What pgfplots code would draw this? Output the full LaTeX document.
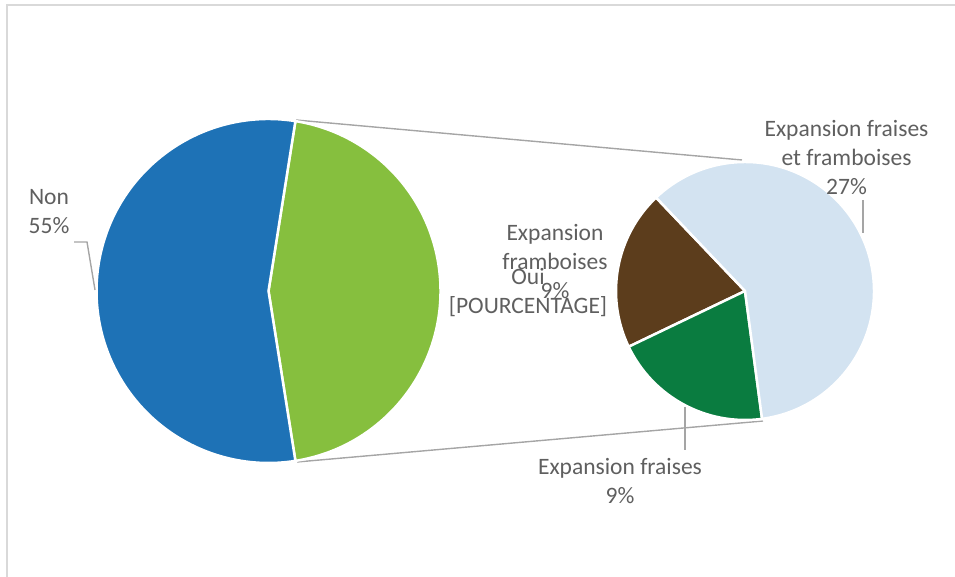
\documentclass[border=0pt]{standalone}
\usepackage{pgfplots}
\usepackage{pgfplotstable}
\pgfplotsset{compat=1.18}
\usepackage{fontspec}
\setmainfont{Carlito}
\definecolor{cNon}{RGB}{30,114,182}
\definecolor{cOui}{RGB}{134,191,62}
\definecolor{cFF}{RGB}{211,227,241}
\definecolor{cFramb}{RGB}{92,61,28}
\definecolor{cFraises}{RGB}{10,124,64}
\definecolor{cConn}{RGB}{165,165,165}
\definecolor{cBorder}{RGB}{217,217,217}
\definecolor{cText}{RGB}{95,95,95}
% primary pie
\pgfplotstableread{
label value
Non 55
Oui 45
}\primary
% secondary pie (split of Oui)
\pgfplotstableread{
label value
FraisesFramboises 27
Framboises 9
Fraises 9
}\secondary
\begin{document}
\begin{tikzpicture}
\begin{axis}[
  name=ax,
  scale only axis, width=955bp, height=577bp,
  xmin=0, xmax=955, ymin=0, ymax=577,
  enlargelimits=false,
  axis lines=none, ticks=none,
]
\pgfplotstablegetelem{0}{value}\of\primary \edef\vNon{\pgfplotsretval}
\pgfplotstablegetelem{1}{value}\of\primary \edef\vOui{\pgfplotsretval}
\pgfplotstablegetelem{0}{value}\of\secondary \edef\vFF{\pgfplotsretval}
\pgfplotstablegetelem{1}{value}\of\secondary \edef\vFb{\pgfplotsretval}
\pgfplotstablegetelem{2}{value}\of\secondary \edef\vFs{\pgfplotsretval}
% angles
\pgfmathsetmacro{\aOuiS}{-\vOui*3.6/2}
\pgfmathsetmacro{\aOuiE}{\vOui*3.6/2}
\pgfmathsetmacro{\aNonE}{\aOuiE+\vNon*3.6}
\pgfmathsetmacro{\aFbS}{133.6}
\pgfmathsetmacro{\aFbE}{\aFbS+\vFb/\vOui*360}
\pgfmathsetmacro{\aFsE}{\aFbE+\vFs/\vOui*360}
\pgfmathsetmacro{\aFFE}{\aFsE+\vFF/\vOui*360}
% border (top and left edges only; the rest lies outside the picture)
\draw[cBorder, line width=2bp] (axis cs:7,0) -- (axis cs:7,572) -- (axis cs:955,572);
% connector lines
\draw[cConn, line width=1.4bp] (axis cs:296,457) -- (axis cs:742,417);
\draw[cConn, line width=1.4bp] (axis cs:297,115) -- (axis cs:763,156);
% primary pie
\def\cx{268.5}\def\cy{286}\def\r{172}
\fill[cOui, draw=white, line width=2.5bp] (axis cs:\cx,\cy) -- (axis cs:{\cx+\r*cos(\aOuiS)},{\cy+\r*sin(\aOuiS)}) arc[start angle=\aOuiS, end angle=\aOuiE, radius=\r bp] -- cycle;
\fill[cNon, draw=white, line width=2.5bp] (axis cs:\cx,\cy) -- (axis cs:{\cx+\r*cos(\aOuiE)},{\cy+\r*sin(\aOuiE)}) arc[start angle=\aOuiE, end angle=\aNonE, radius=\r bp] -- cycle;
% secondary pie
\def\sx{745}\def\sy{286}\def\sr{129}
\fill[cFramb, draw=white, line width=2.5bp] (axis cs:\sx,\sy) -- (axis cs:{\sx+\sr*cos(\aFbS)},{\sy+\sr*sin(\aFbS)}) arc[start angle=\aFbS, end angle=\aFbE, radius=\sr bp] -- cycle;
\fill[cFraises, draw=white, line width=2.5bp] (axis cs:\sx,\sy) -- (axis cs:{\sx+\sr*cos(\aFbE)},{\sy+\sr*sin(\aFbE)}) arc[start angle=\aFbE, end angle=\aFsE, radius=\sr bp] -- cycle;
\fill[cFF, draw=white, line width=2.5bp] (axis cs:\sx,\sy) -- (axis cs:{\sx+\sr*cos(\aFsE)},{\sy+\sr*sin(\aFsE)}) arc[start angle=\aFsE, end angle=\aFFE, radius=\sr bp] -- cycle;
% leader lines
\draw[cConn, line width=1.4bp] (axis cs:74,335) -- (axis cs:87,335) -- (axis cs:95,287);
\draw[cConn, line width=1.4bp] (axis cs:863,377) -- (axis cs:863,344);
\draw[cConn, line width=1.4bp] (axis cs:685,170) -- (axis cs:685,127);
% labels
\tikzset{lbl/.style={text=cText, align=center, inner sep=0pt, font=\fontsize{23.6}{29.1}\selectfont}}
\node[lbl] at (axis cs:49,365) {Non\\55\%};
\node[lbl] at (axis cs:528,284.5) {Oui\\{[}POURCENTAGE{]}};
\node[lbl] at (axis cs:555,315) {Expansion\\framboises\\9\%};
\node[lbl] at (axis cs:846.5,419) {Expansion fraises\\et framboises\\27\%};
\node[lbl] at (axis cs:620,96) {Expansion fraises\\9\%};
\end{axis}
\pgfresetboundingbox
\useasboundingbox (ax.south west) rectangle (ax.north east);
\end{tikzpicture}
\end{document}
